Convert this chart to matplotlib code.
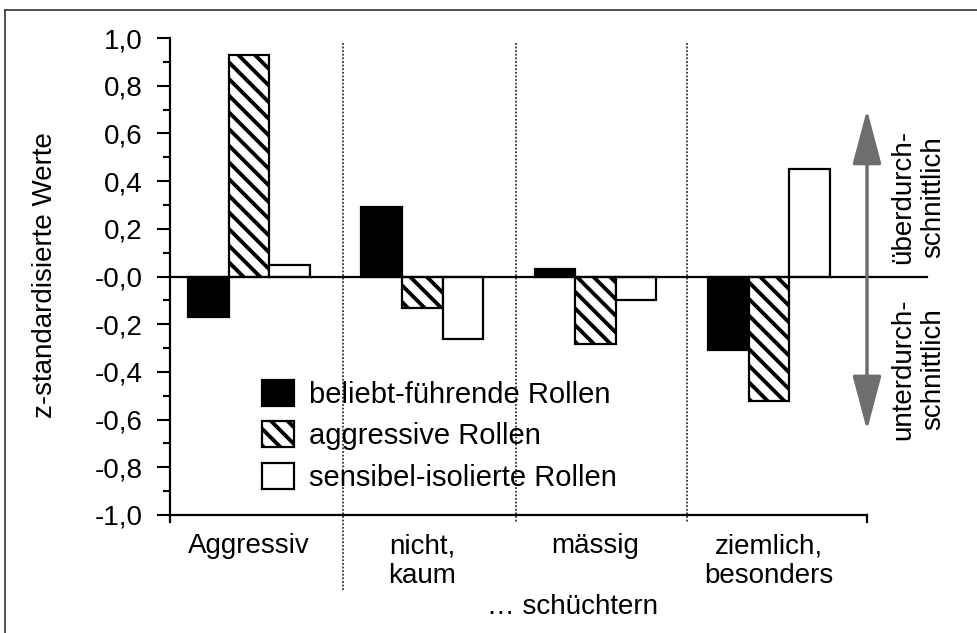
import matplotlib
matplotlib.use("Agg")
import matplotlib.pyplot as plt
from matplotlib.lines import Line2D
from matplotlib.ticker import MultipleLocator

# 数据
gruppen = ["Aggressiv", "nicht,\nkaum", "mässig", "ziemlich,\nbesonders"]
serien = ["beliebt-führende Rollen", "aggressive Rollen", "sensibel-isolierte Rollen"]
beliebt = [-0.17, 0.29, 0.03, -0.31]
aggressiv = [0.93, -0.13, -0.285, -0.52]
sensibel = [0.05, -0.26, -0.10, 0.45]
y_ticks = [-1.0, -0.8, -0.6, -0.4, -0.2, 0.0, 0.2, 0.4, 0.6, 0.8, 1.0]
y_labels = ["-1,0", "-0,8", "-0,6", "-0,4", "-0,2", "-0,0", "0,2", "0,4", "0,6", "0,8", "1,0"]

plt.rcParams['font.family'] = ['Liberation Sans', 'DejaVu Sans']
plt.rcParams['hatch.linewidth'] = 2.8
fs = 20

fig = plt.figure(figsize=(9.78, 6.33), dpi=100)
ax = fig.add_axes([170/978, 1-515/633, (867-170)/978, (515-38)/633])

x = list(range(len(gruppen)))
w = 0.234
b1 = ax.bar([i - w for i in x], beliebt, w, color='black', edgecolor='black', linewidth=1.6)
b2 = ax.bar(x, aggressiv, w, color='white', edgecolor='black', hatch='\\\\', linewidth=1.6)
b3 = ax.bar([i + w for i in x], sensibel, w, color='white', edgecolor='black', linewidth=1.6)

ax.set_xlim(-0.456, 3.566)
ax.set_ylim(-1.0, 1.0)

# Nulllinie
ax.plot([-0.456, 3.91], [0, 0], color='black', lw=1.6, clip_on=False, zorder=1)

# Trennlinien
for xd, yb in [(0.54, -1.32), (1.54, -1.03), (2.53, -1.03)]:
    ax.plot([xd, xd], [0.98, yb], color='#333333', lw=1.3, ls=(0, (1, 1)), clip_on=False, zorder=0)

# Achsen
for s in ['top', 'right']:
    ax.spines[s].set_visible(False)
ax.spines['left'].set_linewidth(1.6)
ax.spines['bottom'].set_linewidth(1.6)
ax.spines['left'].set_bounds(-1.03, 1.0)
ax.set_yticks(y_ticks)
ax.set_yticklabels(y_labels, fontsize=fs)
ax.yaxis.set_minor_locator(MultipleLocator(0.1))
ax.tick_params(axis='y', which='major', length=9.5, width=1.5, pad=10)
ax.tick_params(axis='y', which='minor', length=5, width=1.5)
ax.set_xticks(x)
ax.set_xticklabels(gruppen, fontsize=fs, va='top')
ax.tick_params(axis='x', length=0, pad=13)
ax.plot([3.566, 3.566], [-1.0, -1.03], color='black', lw=1.6, clip_on=False)

fig.text(45/978, 1-275/633, "z-standardisierte Werte", rotation=90, fontsize=fs,
         ha='center', va='center')
fig.text(573/978, 1-607/633, "\u2026 schüchtern", fontsize=fs, ha='center', va='center')

# Pfeil
ax.annotate('', xy=(3.566, 0.70), xytext=(3.566, -0.645),
            arrowprops=dict(arrowstyle='<|-|>,head_length=34,head_width=9', mutation_scale=1,
                            color='#6e6e6e', lw=2.5, shrinkA=0, shrinkB=0),
            annotation_clip=False)
fig.text(918/978, 1-197/633, "überdurch-\nschnittlich", rotation=90, fontsize=fs,
         ha='center', va='center', multialignment='center')
fig.text(918/978, 1-369/633, "unterdurch-\nschnittlich", rotation=90, fontsize=fs,
         ha='center', va='center', multialignment='center')

ax.legend([b1, b2, b3], serien, loc='upper left', bbox_to_anchor=(262/978, 1-380/633),
          bbox_transform=fig.transFigure, frameon=False, fontsize=21, borderpad=0,
          borderaxespad=0, handlelength=1.1, handleheight=1.0, handletextpad=0.5,
          labelspacing=0.42)

# Rahmen
fig.add_artist(Line2D([5/978, 1], [1-10/633, 1-10/633], color='#333333', lw=1.2))
fig.add_artist(Line2D([5/978, 5/978], [0, 1-10/633], color='#333333', lw=1.2))

fig.savefig('out.png', dpi=100)
